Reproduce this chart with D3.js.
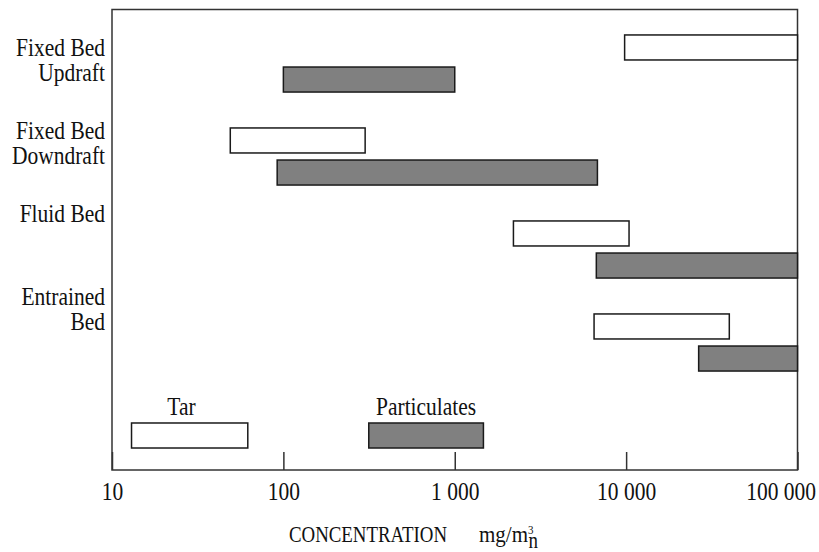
<!DOCTYPE html>
<html>
<head>
<meta charset="utf-8">
<script src="https://cdn.jsdelivr.net/npm/d3@7"></script>
<style>
  body { margin: 0; background: #fff; }
  svg text { font-family: "Liberation Serif", "Tinos", "DejaVu Serif", serif; fill: #111; }
</style>
</head>
<body>
<div id="vis"></div>
<script>
// gasifier types, top to bottom
const groups = ["Fixed Bed Updraft", "Fixed Bed Downdraft", "Fluid Bed", "Entrained Bed"];
const groupLines = [["Fixed Bed", "Updraft"], ["Fixed Bed", "Downdraft"], ["Fluid Bed"], ["Entrained", "Bed"]];
const series = ["Tar", "Particulates"];

// concentration ranges, mg/m3n
const tarLow = [9800, 49, 2200, 6500];
const tarHigh = [100000, 300, 10400, 40000];
const partLow = [100, 92, 6700, 26500];
const partHigh = [1000, 6800, 100000, 100000];

// legend sample boxes
const legendLow = [13, 315];
const legendHigh = [62, 1470];

const tickValues = [10, 100, 1000, 10000, 100000];
const tickLabels = ["10", "100", "1 000", "10 000", "100 000"];

function createVis() {
  const width = 819;
  const height = 552;
  const stretch = 1.17; // text in the original is a bit taller than wide
  const serif = "'Liberation Serif', 'Tinos', 'DejaVu Serif', serif";
  const fill = { Tar: "#fff", Particulates: "#808080" };

  const svg = d3.select("#vis")
    .append("svg")
    .attr("width", width)
    .attr("height", height)
    .attr("viewBox", [0, 0, width, height]);

  const x = d3.scaleLog()
    .domain([10, 100000])
    .range([112, 797.5]);

  const top = 9.5;
  const bottom = 470;

  const yGroup = d3.scaleBand()
    .domain([...groups, "legend"])
    .range([17, 482]);

  const ySeries = d3.scaleBand()
    .domain(series)
    .range([0, yGroup.bandwidth()])
    .paddingInner(0.22)
    .paddingOuter(0.56);

  const yLabel = d3.scalePoint()
    .domain(groups)
    .range([56, 305]);

  // frame
  svg.append("rect")
    .attr("x", x.range()[0])
    .attr("y", top)
    .attr("width", x.range()[1] - x.range()[0])
    .attr("height", bottom - top)
    .attr("fill", "none")
    .attr("stroke", "#333")
    .attr("stroke-width", 1.5);

  // bars
  const rows = [];
  groups.forEach((g, i) => {
    rows.push({ group: g, key: "Tar", lo: tarLow[i], hi: tarHigh[i] });
    rows.push({ group: g, key: "Particulates", lo: partLow[i], hi: partHigh[i] });
  });

  svg.append("g")
    .selectAll("rect")
    .data(rows)
    .join("rect")
    .attr("x", d => x(d.lo))
    .attr("width", d => x(d.hi) - x(d.lo))
    .attr("y", d => yGroup(d.group) + ySeries(d.key))
    .attr("height", ySeries.bandwidth())
    .attr("fill", d => fill[d.key])
    .attr("stroke", "#1a1a1a")
    .attr("stroke-width", 1.5);

  // category labels
  const lab = svg.append("g");
  groups.forEach((g, i) => {
    groupLines[i].forEach((line, j) => {
      lab.append("text")
        .attr("text-anchor", "end")
        .attr("font-family", serif)
        .attr("font-size", 21.5)
        .attr("transform", `translate(105,${yLabel(g) + j * 25}) scale(1,${stretch})`)
        .text(line);
    });
  });

  // legend
  const legendY = yGroup("legend") + yGroup.bandwidth() / 2 - ySeries.bandwidth() / 2;
  const leg = svg.append("g");
  series.forEach((s, i) => {
    leg.append("rect")
      .attr("x", x(legendLow[i]))
      .attr("y", legendY)
      .attr("width", x(legendHigh[i]) - x(legendLow[i]))
      .attr("height", ySeries.bandwidth())
      .attr("fill", fill[s])
      .attr("stroke", "#1a1a1a")
      .attr("stroke-width", 1.5);
    const cx = s === "Tar" ? x(legendLow[i]) + 50 : (x(legendLow[i]) + x(legendHigh[i])) / 2;
    leg.append("text")
      .attr("text-anchor", "middle")
      .attr("font-family", serif)
      .attr("font-size", 21.5)
      .attr("transform", `translate(${cx},${legendY - 8}) scale(1,${stretch})`)
      .text(s);
  });

  // x axis: inward ticks, labels below
  const axis = svg.append("g")
    .attr("transform", `translate(0,${bottom})`)
    .call(d3.axisBottom(x)
      .tickValues(tickValues)
      .tickSize(-18)
      .tickFormat((d, i) => tickLabels[i]));

  axis.select(".domain").remove();
  axis.selectAll(".tick line")
    .attr("stroke", "#333")
    .attr("stroke-width", 1.5);
  axis.selectAll(".tick text")
    .attr("y", null)
    .attr("dy", null)
    .attr("fill", "#111")
    .attr("font-family", serif)
    .attr("font-size", 21.5)
    .attr("text-anchor", (d, i) => i === tickValues.length - 1 ? "end" : "middle")
    .attr("transform", (d, i) => `translate(${i === tickValues.length - 1 ? 18 : 0},30) scale(1,${stretch})`);

  // axis title
  const title = svg.append("text")
    .attr("font-family", serif)
    .attr("font-size", 19)
    .attr("transform", `translate(289,542) scale(1,1.18)`);
  title.append("tspan")
    .attr("textLength", 158)
    .attr("lengthAdjust", "spacingAndGlyphs")
    .text("CONCENTRATION");
  title.append("tspan")
    .attr("x", 190)
    .attr("textLength", 49)
    .attr("lengthAdjust", "spacingAndGlyphs")
    .text("mg/m");
  title.append("tspan")
    .attr("font-size", 11)
    .attr("dy", -7)
    .text("3");
  title.append("tspan")
    .attr("dx", -5)
    .attr("dy", 12)
    .text("n");
}

window.addEventListener("load", createVis);
</script>
</body>
</html>
